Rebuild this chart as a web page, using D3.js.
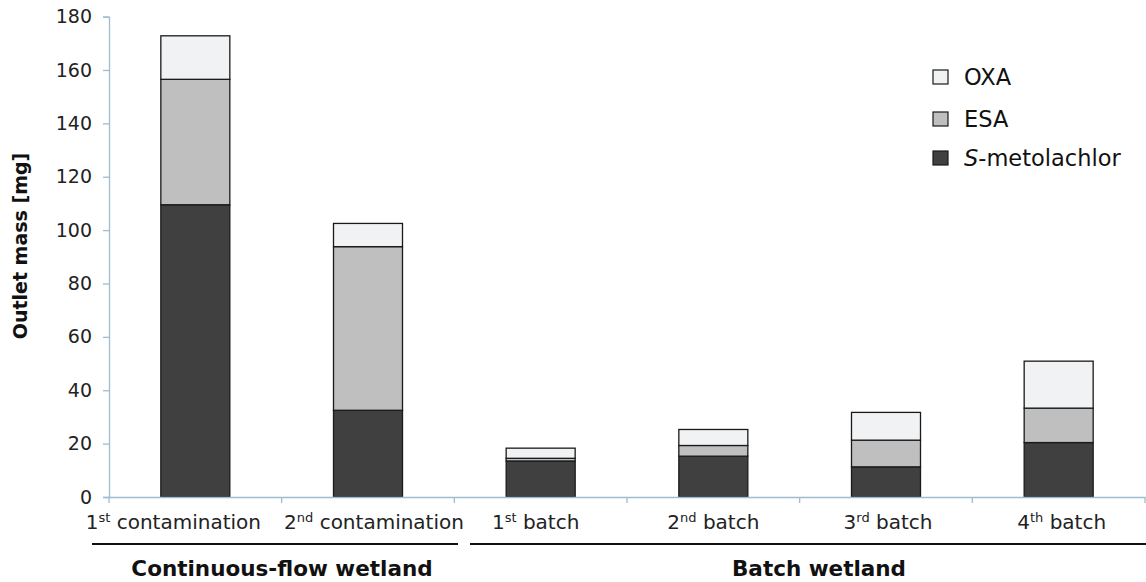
<!DOCTYPE html>
<html><head><meta charset="utf-8">
<script src="https://cdn.jsdelivr.net/npm/d3@7"></script>
<style>
body{margin:0;background:#fff;}
svg{display:block;font-family:"DejaVu Sans",sans-serif;}
</style></head>
<body><svg id="c" width="1146" height="582"></svg>
<script>
const categories = ["1st contamination","2nd contamination","1st batch","2nd batch","3rd batch","4th batch"];
const catNum = ["1","2","1","2","3","4"];
const catSup = ["st","nd","st","nd","rd","th"];
const catWord = ["contamination","contamination","batch","batch","batch","batch"];
const sMetolachlor = [109.5, 32.5, 13.5, 15.3, 11.3, 20.4];
const esa = [47.0, 61.3, 1.0, 4.0, 10.0, 12.9];
const oxa = [16.3, 8.7, 3.8, 6.0, 10.4, 17.6];
const seriesNames = ["S-metolachlor","ESA","OXA"];
const seriesColors = ["#404040","#bfbfbf","#f1f2f3"];
const yTicks = [0,20,40,60,80,100,120,140,160,180];
const groups = [{label:"Continuous-flow wetland", from:0, to:1},{label:"Batch wetland", from:2, to:5}];

(function(){
const svg = d3.select("#c");
const mL = 109, mR = 1145, mT = 16.6, mB = 497;
const x = d3.scaleBand().domain(categories).range([mL,mR]).paddingInner(0).paddingOuter(0);
const y = d3.scaleLinear().domain([0,180]).range([mB, mT]);
const axisColor = "#9dbdd0";
const FF = "'DejaVu Sans',sans-serif";

const table = categories.map((c,i)=>({cat:c, "S-metolachlor":sMetolachlor[i], "ESA":esa[i], "OXA":oxa[i]}));
const stack = d3.stack().keys(seriesNames)(table);
const bw = 69;

svg.append("g").selectAll("g").data(stack).join("g")
  .attr("fill",(d,i)=>seriesColors[i])
  .selectAll("rect").data(d=>d).join("rect")
  .attr("x",d=>x(d.data.cat)+x.bandwidth()/2-bw/2)
  .attr("width",bw)
  .attr("y",d=>y(d[1]))
  .attr("height",d=>y(d[0])-y(d[1]))
  .attr("stroke","#1a1a1a").attr("stroke-width",1.3);

// y axis
const ya = svg.append("g").attr("transform",`translate(${mL},0)`)
  .call(d3.axisLeft(y).tickValues(yTicks).tickSize(6).tickPadding(11));
ya.select(".domain").attr("stroke",axisColor).attr("stroke-width",1.3);
ya.selectAll(".tick line").attr("stroke",axisColor).attr("stroke-width",1.3);
ya.selectAll(".tick text").attr("font-size",19).attr("fill","#222").attr("font-family",FF);

// x axis
const xa = svg.append("g").attr("transform",`translate(0,${mB})`)
  .call(d3.axisBottom(x).tickSize(0).tickFormat(""));
xa.select(".domain").attr("stroke",axisColor).attr("stroke-width",1.3);
const seps = categories.map(c=>x(c)).concat([mR]);
svg.append("g").selectAll("line").data(seps).join("line")
  .attr("x1",d=>d).attr("x2",d=>d).attr("y1",mB).attr("y2",mB+6)
  .attr("stroke",axisColor).attr("stroke-width",1.3);

// category labels with superscripts
const labelShift = [-22, 6, -5, 0, 2, 3];
const cl = svg.append("g").selectAll("text").data(categories).join("text")
  .attr("x",(d,i)=>x(d)+x.bandwidth()/2+labelShift[i]).attr("y",529)
  .attr("text-anchor","middle").attr("font-size",20).attr("fill","#222");
cl.append("tspan").text((d,i)=>catNum[i]);
cl.append("tspan").attr("font-size",13).attr("dy",-7).text((d,i)=>catSup[i]);
cl.append("tspan").attr("dy",7).text((d,i)=>"\u00a0"+catWord[i]);

// group lines and labels
const gx = [[92,458],[470,1146]];
const gCenter = [282, 819];
groups.forEach((g,i)=>{
  svg.append("line").attr("x1",gx[i][0]).attr("x2",gx[i][1]).attr("y1",544).attr("y2",544)
    .attr("stroke","#111").attr("stroke-width",2);
  svg.append("text").attr("x",gCenter[i])
    .attr("y",576).attr("text-anchor","middle").attr("font-size",21.5).attr("font-weight","bold")
    .attr("fill","#111").text(g.label);
});

// y label
svg.append("text").attr("transform","translate(27,246) rotate(-90)")
  .attr("text-anchor","middle").attr("font-size",19).attr("font-weight","bold").attr("fill","#111")
  .text("Outlet mass [mg]");

// legend
const leg = [{n:"OXA",c:seriesColors[2],y:70},{n:"ESA",c:seriesColors[1],y:112},{n:"S-metolachlor",c:seriesColors[0],y:151}];
const lg = svg.append("g");
leg.forEach(l=>{
  lg.append("rect").attr("x",933).attr("y",l.y).attr("width",15).attr("height",14)
    .attr("fill",l.c).attr("stroke","#1a1a1a").attr("stroke-width",1.2);
  const t = lg.append("text").attr("x",964).attr("y",l.y+15).attr("font-size",22.5).attr("fill","#111");
  if(l.n==="S-metolachlor"){
    t.append("tspan").attr("font-style","italic").text("S");
    t.append("tspan").text("-metolachlor");
  } else t.text(l.n);
});
})();
</script></body></html>
